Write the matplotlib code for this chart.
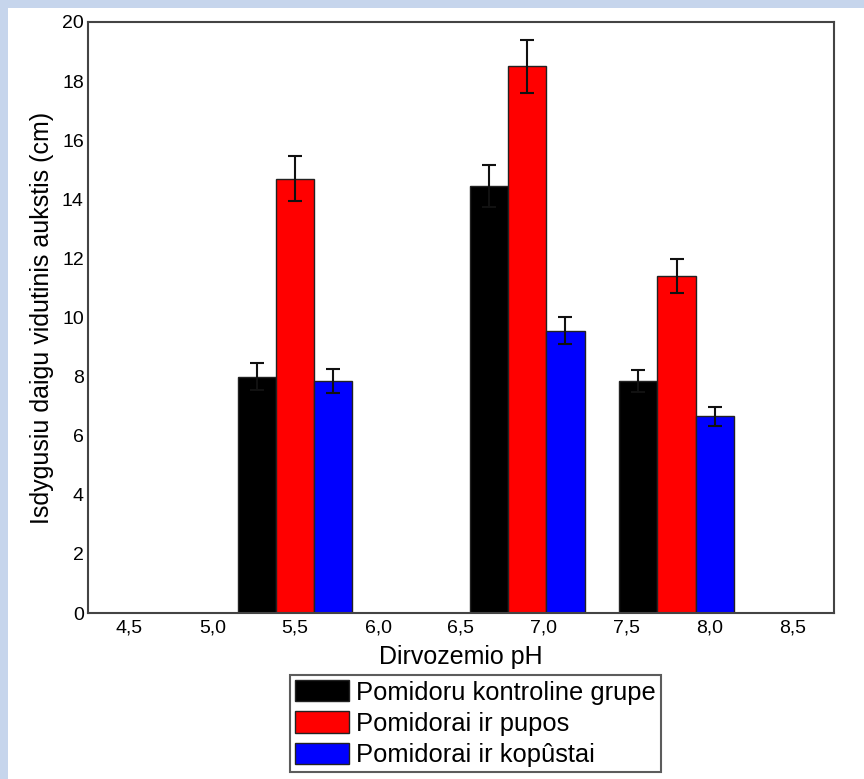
import matplotlib
matplotlib.use("Agg")
import matplotlib.pyplot as plt
from matplotlib.patches import Rectangle
import numpy as np

plt.rcParams['font.family'] = ['Liberation Sans', 'DejaVu Sans']

# pH groups where bars are drawn
ph_groups = [5.5, 6.9, 7.8]
tick_vals = [4.5, 5.0, 5.5, 6.0, 6.5, 7.0, 7.5, 8.0, 8.5]
tick_labels = ['4,5', '5,0', '5,5', '6,0', '6,5', '7,0', '7,5', '8,0', '8,5']

series_names = ['Pomidoru kontroline grupe', 'Pomidorai ir pupos', 'Pomidorai ir kopûstai']
series_colors = ['#000000', '#ff0000', '#0000ff']

control = [8.0, 14.45, 7.85]
control_err = [0.45, 0.7, 0.38]
beans = [14.7, 18.5, 11.4]
beans_err = [0.77, 0.9, 0.58]
cabbage = [7.85, 9.55, 6.65]
cabbage_err = [0.4, 0.45, 0.32]

values = [control, beans, cabbage]
errors = [control_err, beans_err, cabbage_err]

fig = plt.figure(figsize=(8.64, 7.79), dpi=100)
fig.patch.set_facecolor('white')

# light blue frame on the left and top
fig.patches.append(Rectangle((0, 0), 8 / 864, 1, transform=fig.transFigure,
                             facecolor='#c6d5ec', edgecolor='none', zorder=0))
fig.patches.append(Rectangle((0, 1 - 8 / 779), 1, 8 / 779, transform=fig.transFigure,
                             facecolor='#c6d5ec', edgecolor='none', zorder=0))

ax = fig.add_axes([88 / 864, 1 - 613 / 779, (834 - 88) / 864, (613 - 22) / 779])

width = 0.23
x = np.array(ph_groups)
for i in range(3):
    ax.bar(x + (i - 1) * width, values[i], width, yerr=errors[i],
           color=series_colors[i], edgecolor='#222222', linewidth=1,
           label=series_names[i],
           error_kw=dict(ecolor='#111111', elinewidth=1.5, capsize=5, capthick=1.5))

ax.set_xlim(4.25, 8.75)
ax.set_ylim(0, 20)
ax.set_xticks(tick_vals)
ax.set_xticklabels(tick_labels)
ax.set_yticks(range(0, 21, 2))
ax.tick_params(axis='both', length=0, labelsize=14)
ax.tick_params(axis='y', pad=3)
ax.tick_params(axis='x', pad=5)

for s in ax.spines.values():
    s.set_color('#444444')
    s.set_linewidth(1.5)

ax.set_xlabel('Dirvozemio pH', fontsize=18, labelpad=6)
ax.set_ylabel('Isdygusiu daigu vidutinis aukstis (cm)', fontsize=18, labelpad=6)

leg = fig.legend(loc='upper left', bbox_to_anchor=(290 / 864, 1 - 675 / 779),
                 fontsize=18.4, frameon=True, fancybox=False, shadow=False,
                 handlelength=2.1, handleheight=0.9, handletextpad=0.3,
                 labelspacing=0.27, borderpad=0.2, borderaxespad=0)
leg.get_frame().set_edgecolor('#333333')
leg.get_frame().set_linewidth(1.5)

fig.savefig('out.png', dpi=100)
